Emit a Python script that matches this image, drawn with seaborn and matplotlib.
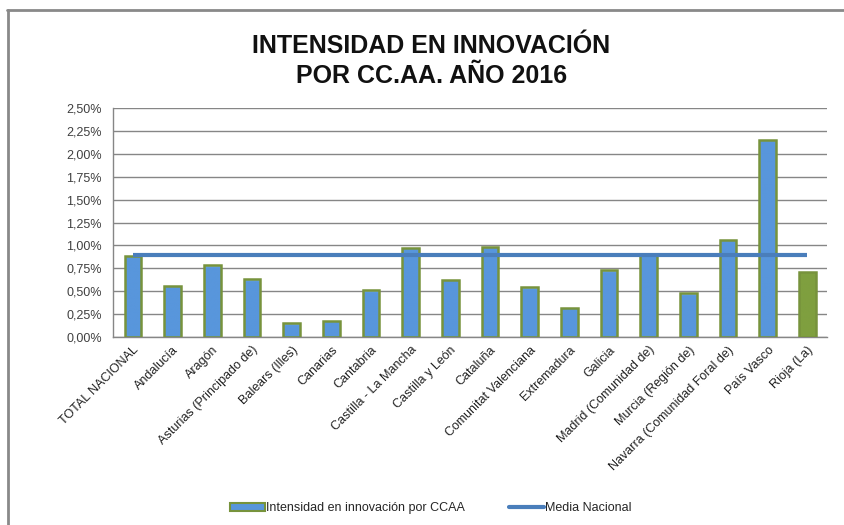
import matplotlib
matplotlib.use("Agg")
import matplotlib.pyplot as plt
import seaborn as sns
import numpy as np
import pandas as pd
from matplotlib.lines import Line2D
from matplotlib.patches import Patch
from matplotlib.colors import LinearSegmentedColormap
from matplotlib.ticker import FuncFormatter, MultipleLocator

# Data (percent)
regiones = ["TOTAL NACIONAL", "Andalucía", "Aragón", "Asturias (Principado de)",
            "Balears (Illes)", "Canarias", "Cantabria", "Castilla - La Mancha",
            "Castilla y León", "Cataluña", "Comunitat Valenciana", "Extremadura",
            "Galicia", "Madrid (Comunidad de)", "Murcia (Región de)",
            "Navarra (Comunidad Foral de)", "País Vasco", "Rioja (La)"]
intensidad = [0.89, 0.56, 0.785, 0.63, 0.15, 0.18, 0.51, 0.975, 0.625,
              0.985, 0.545, 0.32, 0.73, 0.90, 0.48, 1.065, 2.155, 0.715]
media_nacional = 0.90

df = pd.DataFrame({"region": regiones, "valor": intensidad})

sns.set_theme(style="white")
plt.rcParams["font.family"] = ["Liberation Sans", "DejaVu Sans"]

blue = "#5896DC"
green = "#7F9F3F"
edge = "#77933C"
colores = [blue] * (len(regiones) - 1) + [green]

fig = plt.figure(figsize=(8.44, 5.25), dpi=100)
ax = fig.add_axes([0.134, 0.358, 0.846, 0.436])

sns.barplot(data=df, x="region", y="valor", hue="region", palette=colores,
            legend=False, width=0.42, edgecolor=edge, linewidth=1.8,
            saturation=1, ax=ax, zorder=3)

# light highlight at the top of each bar (Excel style shading)
for patch, col in zip(ax.patches, colores):
    x0, y0 = patch.get_x(), patch.get_y()
    w, h = patch.get_width(), patch.get_height()
    light = "#A8DDF8" if col == blue else "#B5CF6E"
    cmap = LinearSegmentedColormap.from_list("g", [col, col, light])
    frac = 0.05 / h if h > 0 else 0
    grad = np.clip((np.linspace(0, 1, 200) - (1 - frac)) / frac, 0, 1)[:, None]
    im = ax.imshow(grad, cmap=cmap, origin="lower", aspect="auto",
                   extent=[x0, x0 + w, y0, y0 + h], zorder=3.2, vmin=0, vmax=1)
    im.set_clip_path(patch)
    # keep the green outline on top of the shading
    patch.set_facecolor("none")
    patch.set_zorder(3.4)

ax.plot(range(len(regiones)), [media_nacional] * len(regiones),
        color="#4A7EBB", linewidth=3, zorder=4, solid_capstyle="butt")

ax.set_ylim(0, 2.5)
ax.set_xlim(-0.5, len(regiones) - 0.5)
ax.yaxis.set_major_locator(MultipleLocator(0.25))
ax.yaxis.set_major_formatter(FuncFormatter(lambda v, p: f"{v:.2f}%".replace(".", ",")))
ax.grid(axis="y", color="#868686", linewidth=1, zorder=0)
ax.set_axisbelow(True)
ax.set_xlabel("")
ax.set_ylabel("")
ax.tick_params(axis="y", labelsize=9, colors="#404040", length=0, pad=8)
ax.tick_params(axis="x", length=0, pad=5)
ax.set_xticks(range(len(regiones)))
ax.set_xticklabels(regiones, rotation=45, ha="right", rotation_mode="anchor",
                   fontsize=9, color="#222222")
for s in ["top", "right"]:
    ax.spines[s].set_visible(False)
for s in ["left", "bottom"]:
    ax.spines[s].set_color("#868686")
    ax.spines[s].set_linewidth(1)

fig.text(0.511, 0.913, "INTENSIDAD EN INNOVACIÓN", ha="center", va="center",
         fontsize=18, fontweight="bold", color="#111111")
fig.text(0.511, 0.855, "POR CC.AA. AÑO 2016", ha="center", va="center",
         fontsize=18, fontweight="bold", color="#111111")

handles = [Patch(facecolor=blue, edgecolor=edge, linewidth=1.5),
           Line2D([0], [0], color="#4A7EBB", linewidth=3)]
fig.legend(handles, ["Intensidad en innovación por CCAA", "Media Nacional"],
           loc="center", bbox_to_anchor=(0.51, 0.032), ncol=2, frameon=False,
           fontsize=9, handlelength=2.8, handleheight=0.6, handletextpad=0.1,
           columnspacing=3.5)

# outer chart frame (top and left edges visible)
fig.add_artist(Line2D([0.008, 1.0], [0.981, 0.981], color="#898989", linewidth=2))
fig.add_artist(Line2D([0.0095, 0.0095], [0.0, 0.981], color="#898989", linewidth=2))

fig.savefig("out.png", dpi=100)
